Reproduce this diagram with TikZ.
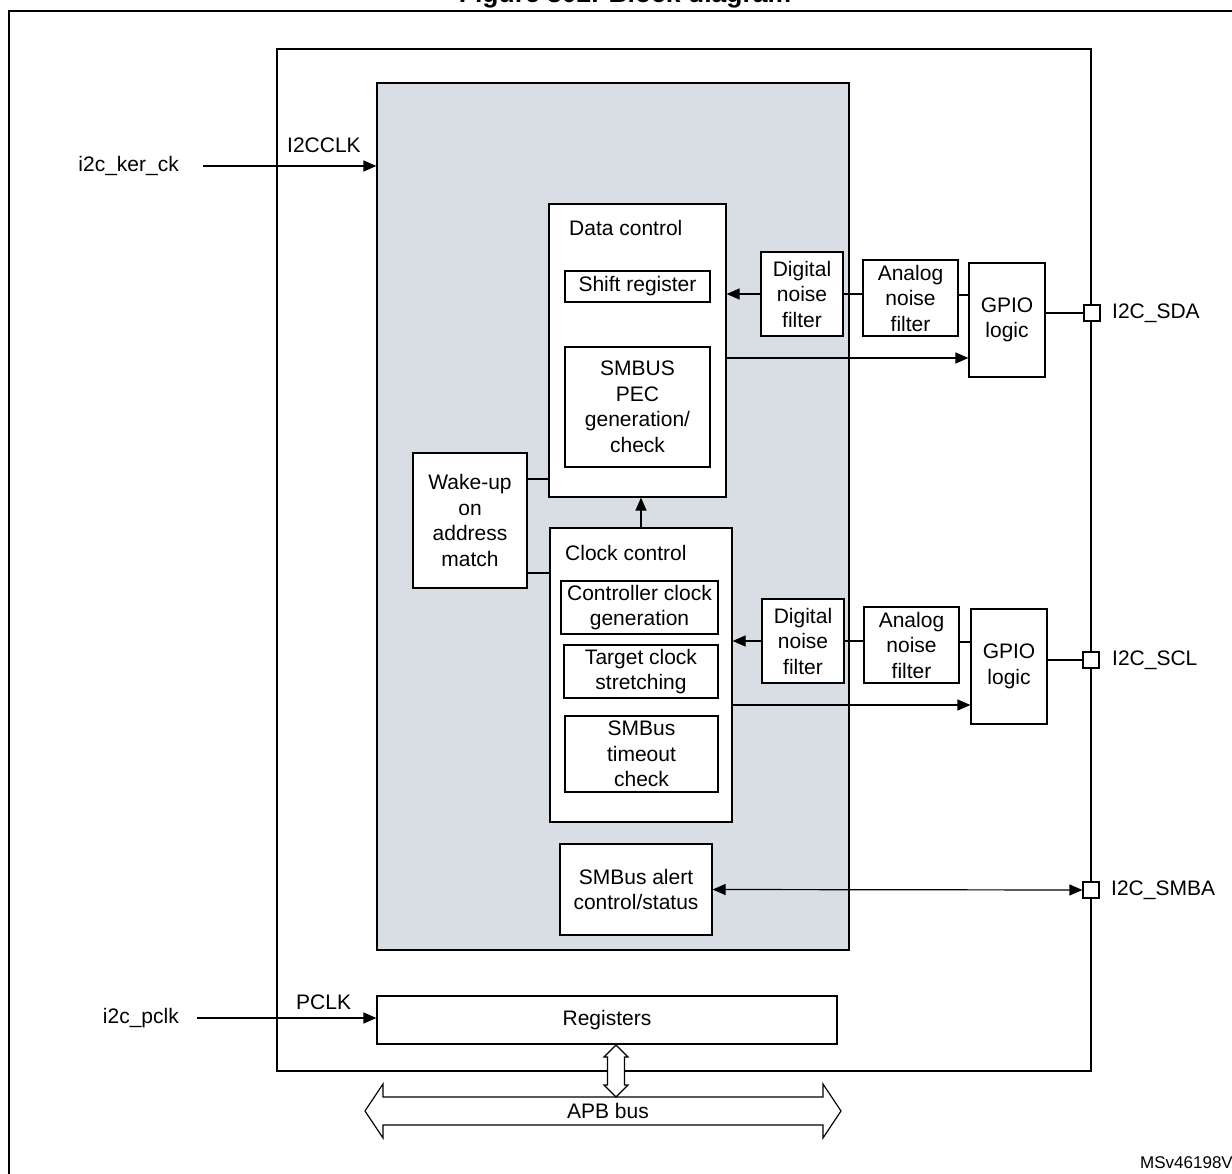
\documentclass[tikz,border=0pt]{standalone}
\usepackage{fontspec}
\setmainfont{Liberation Sans}
\usetikzlibrary{arrows.meta}
\definecolor{grigio}{RGB}{217,221,228}
\newcommand{\testo}{\fontsize{21}{25.5}\selectfont}
\tikzstyle{blocco} = [rectangle, draw=black, line width=1.2pt, fill=white, inner sep=0pt, align=center, font=\testo]
\tikzstyle{porta} = [rectangle, draw=black, line width=1.2pt, fill=white, minimum size=16pt, inner sep=0pt]
\tikzstyle{etichetta} = [inner sep=0pt, font=\testo]
\tikzstyle{linea} = [line width=1.2pt]
\tikzstyle{freccia} = [line width=1.2pt, -{Triangle[length=13pt,width=11pt]}]
\tikzstyle{doppia} = [line width=1.2pt, {Triangle[length=13pt,width=11pt]}-{Triangle[length=13pt,width=11pt]}]

\begin{document}
\begin{tikzpicture}[x=1pt,y=-1pt]
\useasboundingbox (0,0) rectangle (1232,1174);
\clip (0,0) rectangle (1232,1174);
\fill[white] (0,0) rectangle (1232,1174);
\node[anchor=base, inner sep=0pt, font=\fontsize{26.5}{30}\selectfont\bfseries] (titolo) at (625,3) {Figure 302. Block diagram};
\draw[line width=2.3pt] (9,11) rectangle (1250,1200);
\node[font=\fontsize{17}{20}\selectfont, inner sep=0pt, anchor=base west] (codice) at (1140,1168) {MSv46198V4};
% periferica
\node (main) at (684,560) [rectangle, draw, line width=2.5pt, minimum width=814pt, minimum height=1022pt] {};
\node (grey) at (613,516.5) [rectangle, draw, line width=1.2pt, fill=grigio, minimum width=472pt, minimum height=867pt] {};
% data control
\node (dc) at (637.5,350.5) [blocco, minimum width=177pt, minimum height=293pt] {};
\node[etichetta, anchor=base west] (dctit) at (569,236) {Data control};
\node (shift) at (637.5,286.5) [blocco, minimum width=145pt, minimum height=31pt] {Shift register};
\node (pec) at (637.5,407) [blocco, minimum width=145pt, minimum height=120pt] {SMBUS\\PEC\\generation/\\check};
\node (dnfa) at (802,294) [blocco, minimum width=82pt, minimum height=84pt] {Digital\\noise\\filter};
\node (anfa) at (910.5,298) [blocco, minimum width=95pt, minimum height=76pt] {Analog\\noise\\filter};
\node (gpioa) at (1007,320) [blocco, minimum width=76pt, minimum height=114pt] {GPIO\\logic};
\node (sda) at (1092,313) [porta] {};
\node[etichetta, anchor=west] (sdatxt) at (1112,313) {I2C\_SDA};
% wake-up e clock control
\node (wake) at (470,520.5) [blocco, minimum width=114pt, minimum height=135pt] {Wake-up\\on\\address\\match};
\node (cc) at (641,675) [blocco, minimum width=182pt, minimum height=294pt] {};
\node[etichetta, anchor=base west] (cctit) at (565,560) {Clock control};
\node (ccg) at (639.5,607.5) [blocco, minimum width=157pt, minimum height=53pt] {Controller clock\\generation};
\node (tcs) at (641,671.5) [blocco, minimum width=154pt, minimum height=53pt] {Target clock\\stretching};
\node (sto) at (641.5,754) [blocco, minimum width=153pt, minimum height=76pt] {SMBus\\timeout\\check};
\node (dnfb) at (803,641) [blocco, minimum width=82pt, minimum height=84pt] {Digital\\noise\\filter};
\node (anfb) at (911.5,645) [blocco, minimum width=95pt, minimum height=76pt] {Analog\\noise\\filter};
\node (gpiob) at (1009,666.5) [blocco, minimum width=76pt, minimum height=115pt] {GPIO\\logic};
\node (scl) at (1091,660) [porta] {};
\node[etichetta, anchor=west] (scltxt) at (1112,660) {I2C\_SCL};
% alert e registri
\node (alert) at (636,889.5) [blocco, minimum width=152pt, minimum height=91pt] {SMBus alert\\control/status};
\node (smba) at (1091,890) [porta] {};
\node[etichetta, anchor=west] (smbatxt) at (1111,890) {I2C\_SMBA};
\node (reg) at (607,1020) [blocco, minimum width=460pt, minimum height=48pt] {Registers};
% clock in ingresso
\node[etichetta, anchor=east] (kerck) at (179,166) {i2c\_ker\_ck};
\coordinate (kerin) at (203,166);
\node[etichetta, anchor=base west] (i2cclk) at (287,153) {I2CCLK};
\node[etichetta, anchor=east] (pclk) at (179,1018) {i2c\_pclk};
\coordinate (pclkin) at (197,1018);
\node[etichetta, anchor=base west] (pclktxt) at (296,1009) {PCLK};
% bus APB
\draw[linea, fill=white] (365,1111) -- (383,1084) -- (383,1097) -- (823,1097) -- (823,1084) -- (841,1111) -- (823,1138) -- (823,1125) -- (383,1125) -- (383,1138) -- cycle;
\node[etichetta] (apb) at (608,1111) {APB bus};
\draw[linea, fill=white] (616,1045) -- (628,1057) -- (624.5,1057) -- (624.5,1085) -- (628,1085) -- (616,1097) -- (604,1085) -- (607.5,1085) -- (607.5,1057) -- (604,1057) -- cycle;
% collegamenti
\draw[freccia] (kerin) -- (kerin -| grey.west);
\draw[freccia] (pclkin) -- (pclkin -| reg.west);
\draw[freccia] (dnfa.west) -- (dnfa.west -| dc.east);
\draw[linea] (dnfa.east) -- (dnfa.east -| anfa.west);
\draw[linea] ([yshift=3pt]anfa.east) -- ([yshift=3pt]anfa.east -| gpioa.west);
\draw[freccia] ([yshift=-7.5pt]dc.east) -- ([yshift=-7.5pt]dc.east -| gpioa.west);
\draw[linea] (sda.west -| gpioa.east) -- (sda.west);
\draw[linea] ([yshift=41.5pt]wake.east) -- ([yshift=41.5pt]wake.east -| dc.west);
\draw[linea] ([yshift=-52.5pt]wake.east) -- ([yshift=-52.5pt]wake.east -| cc.west);
\draw[freccia] (cc.north) -- (cc.north |- dc.south);
\draw[freccia] (dnfb.west) -- (dnfb.west -| cc.east);
\draw[linea] (dnfb.east) -- (dnfb.east -| anfb.west);
\draw[linea] ([yshift=3pt]anfb.east) -- ([yshift=3pt]anfb.east -| gpiob.west);
\draw[freccia] ([yshift=-30pt]cc.east) -- ([yshift=-30pt]cc.east -| gpiob.west);
\draw[linea] (scl.west -| gpiob.east) -- (scl.west);
\draw[doppia] (alert.east) -- (smba.west);
\end{tikzpicture}
\end{document}
